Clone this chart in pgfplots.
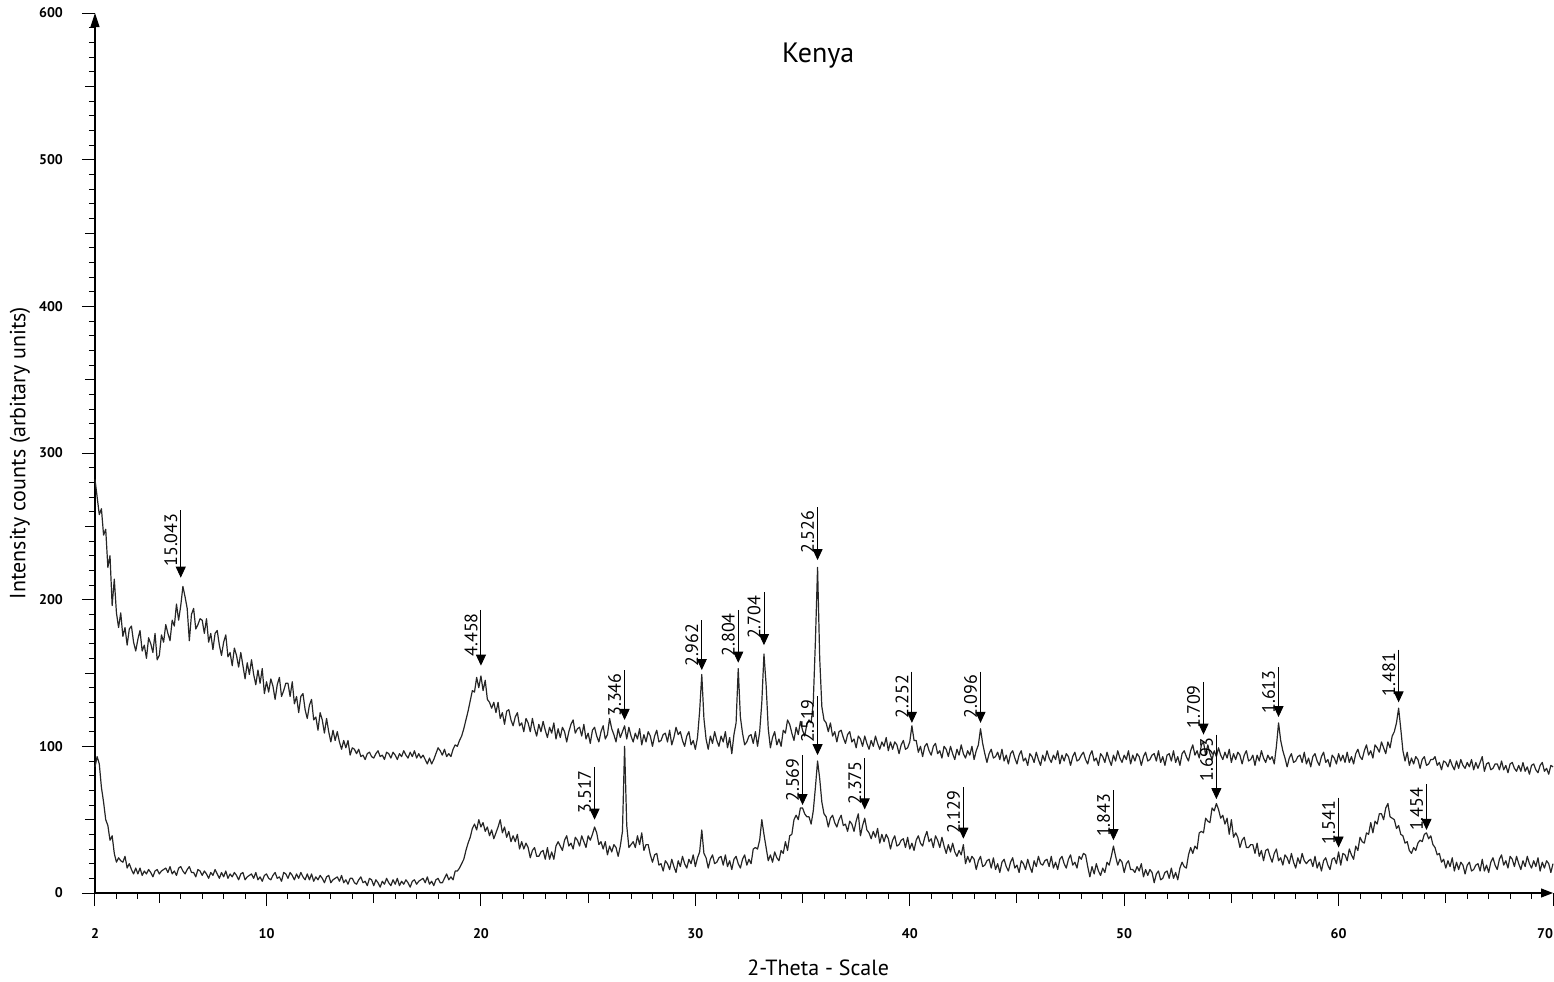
\documentclass[border=0pt]{standalone}
\usepackage{fontspec}
\setmainfont{PT Sans}
\usepackage{pgfplots}
\usepackage{pgfplotstable}
\pgfplotsset{compat=1.18}
\usetikzlibrary{arrows.meta}

% columns: 2-theta, upper pattern (a), lower pattern (b)
\pgfplotstableread[row sep=\\]{
x a b\\
2.0 282 86\\ 2.1 270 93\\ 2.2 258 88\\ 2.3 262 72\\ 2.4 244 62\\ 2.5 248 50\\ 2.6 222 46\\ 2.7 230 36\\ 2.8 196 39\\ 2.9 214 27\\
3.0 191 21\\ 3.1 181 24\\ 3.2 191 22\\ 3.3 175 21\\ 3.4 181 25\\ 3.5 169 17\\ 3.6 180 20\\ 3.7 182 16\\ 3.8 171 13\\ 3.9 165 17\\
4.0 173 13\\ 4.1 179 17\\ 4.2 165 12\\ 4.3 169 15\\ 4.4 160 13\\ 4.5 174 16\\ 4.6 170 14\\ 4.7 164 11\\ 4.8 177 15\\ 4.9 159 16\\
5.0 162 13\\ 5.1 176 15\\ 5.2 171 16\\ 5.3 183 17\\ 5.4 177 14\\ 5.5 172 18\\ 5.6 186 13\\ 5.7 182 15\\ 5.8 197 12\\ 5.9 186 17\\
6.0 196 18\\ 6.1 209 15\\ 6.2 202 13\\ 6.3 194 16\\ 6.4 172 18\\ 6.5 190 14\\ 6.6 194 14\\ 6.7 180 11\\ 6.8 183 16\\ 6.9 187 15\\
7.0 186 12\\ 7.1 177 15\\ 7.2 187 13\\ 7.3 171 10\\ 7.4 177 14\\ 7.5 166 12\\ 7.6 177 16\\ 7.7 179 13\\ 7.8 169 10\\ 7.9 162 14\\
8.0 171 11\\ 8.1 176 15\\ 8.2 161 10\\ 8.3 164 13\\ 8.4 155 11\\ 8.5 167 14\\ 8.6 162 12\\ 8.7 154 9\\ 8.8 164 13\\ 8.9 155 14\\
9.0 146 9\\ 9.1 157 11\\ 9.2 149 12\\ 9.3 159 13\\ 9.4 149 10\\ 9.5 142 14\\ 9.6 152 9\\ 9.7 143 11\\ 9.8 153 8\\ 9.9 136 12\\
10.0 144 13\\ 10.1 137 10\\ 10.2 146 9\\ 10.3 141 12\\ 10.4 132 14\\ 10.5 142 10\\ 10.6 147 11\\ 10.7 134 8\\ 10.8 138 14\\ 10.9 143 13\\
11.0 143 10\\ 11.1 134 14\\ 11.2 144 12\\ 11.3 129 9\\ 11.4 134 13\\ 11.5 123 10\\ 11.6 134 14\\ 11.7 136 11\\ 11.8 125 9\\ 11.9 119 13\\
12.0 128 9\\ 12.1 132 13\\ 12.2 118 8\\ 12.3 120 11\\ 12.4 111 9\\ 12.5 123 12\\ 12.6 118 10\\ 12.7 109 7\\ 12.8 119 11\\ 12.9 110 12\\
13.0 103 7\\ 13.1 111 9\\ 13.2 104 10\\ 13.3 110 11\\ 13.4 103 8\\ 13.5 98 12\\ 13.6 104 7\\ 13.7 99 9\\ 13.8 104 6\\ 13.9 94 10\\
14.0 99 10\\ 14.1 98 7\\ 14.2 95 6\\ 14.3 98 9\\ 14.4 93 11\\ 14.5 94 7\\ 14.6 91 8\\ 14.7 95 5\\ 14.8 96 10\\ 14.9 93 9\\
15.0 92 5\\ 15.1 95 9\\ 15.2 97 7\\ 15.3 93 4\\ 15.4 94 8\\ 15.5 91 6\\ 15.6 96 10\\ 15.7 95 7\\ 15.8 92 5\\ 15.9 96 9\\
16.0 94 6\\ 16.1 91 10\\ 16.2 95 5\\ 16.3 93 8\\ 16.4 97 6\\ 16.5 94 9\\ 16.6 92 7\\ 16.7 96 4\\ 16.8 93 8\\ 16.9 97 9\\
17.0 92 6\\ 17.1 95 8\\ 17.2 92 9\\ 17.3 94 10\\ 17.4 91 7\\ 17.5 88 11\\ 17.6 92 6\\ 17.7 88 8\\ 17.8 91 5\\ 17.9 95 9\\
18.0 99 10\\ 18.1 97 7\\ 18.2 94 7\\ 18.3 98 10\\ 18.4 93 13\\ 18.5 95 9\\ 18.6 93 11\\ 18.7 98 9\\ 18.8 101 15\\ 18.9 100 15\\
19.0 104 17\\ 19.1 107 20\\ 19.2 112 23\\ 19.3 118 29\\ 19.4 124 34\\ 19.5 131 38\\ 19.6 138 44\\ 19.7 137 47\\ 19.8 147 43\\ 19.9 140 50\\
20.0 148 45\\ 20.1 138 48\\ 20.2 145 42\\ 20.3 132 45\\ 20.4 130 39\\ 20.5 126 43\\ 20.6 130 37\\ 20.7 123 41\\ 20.8 130 45\\ 20.9 119 50\\
21.0 123 41\\ 21.1 115 45\\ 21.2 124 38\\ 21.3 125 42\\ 21.4 118 35\\ 21.5 114 39\\ 21.6 120 35\\ 21.7 123 40\\ 21.8 114 30\\ 21.9 116 35\\
22.0 110 30\\ 22.1 119 34\\ 22.2 116 31\\ 22.3 110 24\\ 22.4 119 29\\ 22.5 112 31\\ 22.6 107 25\\ 22.7 115 25\\ 22.8 110 28\\ 22.9 117 29\\
23.0 111 23\\ 23.1 106 31\\ 23.2 113 23\\ 23.3 109 28\\ 23.4 116 23\\ 23.5 105 32\\ 23.6 112 35\\ 23.7 106 32\\ 23.8 113 29\\ 23.9 110 36\\
24.0 103 39\\ 24.1 110 32\\ 24.2 115 34\\ 24.3 118 30\\ 24.4 109 38\\ 24.5 112 36\\ 24.6 113 32\\ 24.7 107 39\\ 24.8 115 35\\ 24.9 105 31\\
25.0 109 39\\ 25.1 102 36\\ 25.2 111 40\\ 25.3 113 45\\ 25.4 107 41\\ 25.5 103 33\\ 25.6 110 35\\ 25.7 114 30\\ 25.8 105 35\\ 25.9 108 26\\
26.0 119 32\\ 26.1 112 28\\ 26.2 108 33\\ 26.3 103 31\\ 26.4 112 25\\ 26.5 106 32\\ 26.6 110 42\\ 26.7 114 100\\ 26.8 105 46\\ 26.9 113 31\\
27.0 107 33\\ 27.1 103 35\\ 27.2 109 31\\ 27.3 105 39\\ 27.4 112 33\\ 27.5 101 41\\ 27.6 108 29\\ 27.7 103 33\\ 27.8 110 33\\ 27.9 107 26\\
28.0 100 21\\ 28.1 107 26\\ 28.2 111 27\\ 28.3 103 19\\ 28.4 104 20\\ 28.5 108 15\\ 28.6 109 22\\ 28.7 103 20\\ 28.8 111 16\\ 28.9 101 23\\
29.0 106 18\\ 29.1 113 14\\ 29.2 108 22\\ 29.3 110 18\\ 29.4 104 25\\ 29.5 100 20\\ 29.6 107 17\\ 29.7 110 23\\ 29.8 101 20\\ 29.9 104 26\\
30.0 98 18\\ 30.1 106 24\\ 30.2 124 28\\ 30.3 149 43\\ 30.4 119 27\\ 30.5 105 24\\ 30.6 98 17\\ 30.7 107 23\\ 30.8 102 26\\ 30.9 110 20\\
31.0 104 21\\ 31.1 100 24\\ 31.2 107 25\\ 31.3 103 19\\ 31.4 110 26\\ 31.5 99 18\\ 31.6 106 22\\ 31.7 95 16\\ 31.8 108 23\\ 31.9 116 25\\
32.0 153 20\\ 32.1 120 17\\ 32.2 109 23\\ 32.3 101 26\\ 32.4 103 19\\ 32.5 107 23\\ 32.6 108 20\\ 32.7 102 30\\ 32.8 110 31\\ 32.9 100 30\\
33.0 110 36\\ 33.1 130 50\\ 33.2 163 40\\ 33.3 142 31\\ 33.4 112 22\\ 33.5 99 26\\ 33.6 106 21\\ 33.7 110 28\\ 33.8 101 24\\ 33.9 105 22\\
34.0 100 29\\ 34.1 111 27\\ 34.2 109 35\\ 34.3 118 29\\ 34.4 115 39\\ 34.5 109 40\\ 34.6 104 50\\ 34.7 113 53\\ 34.8 108 50\\ 34.9 117 58\\
35.0 111 58\\ 35.1 107 54\\ 35.2 115 52\\ 35.3 118 52\\ 35.4 116 47\\ 35.5 130 56\\ 35.6 172 72\\ 35.7 222 90\\ 35.8 160 78\\ 35.9 127 62\\
36.0 118 54\\ 36.1 116 52\\ 36.2 110 45\\ 36.3 116 51\\ 36.4 107 53\\ 36.5 110 48\\ 36.6 103 45\\ 36.7 110 50\\ 36.8 111 53\\ 36.9 106 46\\
37.0 102 47\\ 37.1 108 42\\ 37.2 110 49\\ 37.3 103 47\\ 37.4 105 42\\ 37.5 99 49\\ 37.6 107 54\\ 37.7 105 39\\ 37.8 100 46\\ 37.9 107 51\\
38.0 102 43\\ 38.1 98 41\\ 38.2 104 37\\ 38.3 100 42\\ 38.4 107 38\\ 38.5 102 44\\ 38.6 98 34\\ 38.7 103 40\\ 38.8 100 35\\ 38.9 106 40\\
39.0 97 37\\ 39.1 103 30\\ 39.2 98 36\\ 39.3 103 39\\ 39.4 101 32\\ 39.5 95 33\\ 39.6 101 36\\ 39.7 104 37\\ 39.8 98 31\\ 39.9 99 38\\
40.0 103 30\\ 40.1 114 34\\ 40.2 104 29\\ 40.3 104 36\\ 40.4 96 39\\ 40.5 100 34\\ 40.6 93 32\\ 40.7 100 38\\ 40.8 102 42\\ 40.9 97 35\\
41.0 94 37\\ 41.1 100 31\\ 41.2 102 39\\ 41.3 95 36\\ 41.4 97 31\\ 41.5 92 38\\ 41.6 100 32\\ 41.7 98 27\\ 41.8 93 33\\ 41.9 100 28\\
42.0 95 34\\ 42.1 91 28\\ 42.2 98 25\\ 42.3 94 29\\ 42.4 101 26\\ 42.5 95 33\\ 42.6 92 20\\ 42.7 97 25\\ 42.8 94 21\\ 42.9 100 25\\
43.0 91 23\\ 43.1 97 16\\ 43.2 101 22\\ 43.3 112 25\\ 43.4 102 18\\ 43.5 95 19\\ 43.6 89 22\\ 43.7 95 23\\ 43.8 98 17\\ 43.9 92 24\\
44.0 93 16\\ 44.1 96 20\\ 44.2 91 14\\ 44.3 98 21\\ 44.4 90 23\\ 44.5 94 18\\ 44.6 88 15\\ 44.7 95 21\\ 44.8 97 24\\ 44.9 92 17\\
45.0 88 19\\ 45.1 94 14\\ 45.2 97 22\\ 45.3 90 20\\ 45.4 92 16\\ 45.5 87 23\\ 45.6 95 18\\ 45.7 93 14\\ 45.8 89 22\\ 45.9 96 18\\
46.0 91 25\\ 46.1 87 20\\ 46.2 94 19\\ 46.3 90 22\\ 46.4 97 23\\ 46.5 92 18\\ 46.6 89 25\\ 46.7 94 17\\ 46.8 91 21\\ 46.9 97 16\\
47.0 88 23\\ 47.1 94 25\\ 47.2 90 20\\ 47.3 95 17\\ 47.4 93 23\\ 47.5 87 26\\ 47.6 93 19\\ 47.7 96 21\\ 47.8 90 17\\ 47.9 91 25\\
48.0 94 23\\ 48.1 96 27\\ 48.2 91 26\\ 48.3 88 18\\ 48.4 94 11\\ 48.5 97 18\\ 48.6 90 13\\ 48.7 92 20\\ 48.8 87 15\\ 48.9 95 12\\
49.0 93 17\\ 49.1 89 14\\ 49.2 96 21\\ 49.3 91 19\\ 49.4 87 25\\ 49.5 94 32\\ 49.6 90 25\\ 49.7 97 19\\ 49.8 92 23\\ 49.9 89 21\\
50.0 94 14\\ 50.1 91 20\\ 50.2 97 22\\ 50.3 88 16\\ 50.4 94 16\\ 50.5 90 14\\ 50.6 95 18\\ 50.7 93 15\\ 50.8 87 20\\ 50.9 93 11\\
51.0 96 16\\ 51.1 90 12\\ 51.2 91 16\\ 51.3 94 14\\ 51.4 95 7\\ 51.5 90 13\\ 51.6 97 15\\ 51.7 89 9\\ 51.8 93 10\\ 51.9 87 14\\
52.0 94 15\\ 52.1 95 10\\ 52.2 90 17\\ 52.3 97 10\\ 52.4 89 14\\ 52.5 93 9\\ 52.6 87 17\\ 52.7 95 21\\ 52.8 97 18\\ 52.9 93 17\\
53.0 90 26\\ 53.1 97 31\\ 53.2 101 27\\ 53.3 94 32\\ 53.4 97 30\\ 53.5 92 41\\ 53.6 101 42\\ 53.7 103 41\\ 53.8 94 51\\ 53.9 101 49\\
54.0 95 48\\ 54.1 91 58\\ 54.2 97 56\\ 54.3 93 61\\ 54.4 99 57\\ 54.5 94 51\\ 54.6 91 53\\ 54.7 96 47\\ 54.8 92 51\\ 54.9 98 40\\
55.0 89 50\\ 55.1 95 38\\ 55.2 91 41\\ 55.3 96 38\\ 55.4 94 31\\ 55.5 88 36\\ 55.6 94 38\\ 55.7 97 31\\ 55.8 90 31\\ 55.9 91 33\\
56.0 94 33\\ 56.1 87 27\\ 56.2 94 34\\ 56.3 90 25\\ 56.4 97 29\\ 56.5 92 22\\ 56.6 89 29\\ 56.7 94 30\\ 56.8 91 25\\ 56.9 93 21\\
57.0 88 27\\ 57.1 100 30\\ 57.2 116 22\\ 57.3 104 24\\ 57.4 97 19\\ 57.5 92 26\\ 57.6 86 24\\ 57.7 92 20\\ 57.8 95 27\\ 57.9 89 21\\
58.0 90 17\\ 58.1 93 24\\ 58.2 94 20\\ 58.3 89 27\\ 58.4 96 22\\ 58.5 88 20\\ 58.6 92 22\\ 58.7 86 23\\ 58.8 93 18\\ 58.9 95 25\\
59.0 90 17\\ 59.1 87 21\\ 59.2 93 15\\ 59.3 96 22\\ 59.4 89 24\\ 59.5 91 19\\ 59.6 86 16\\ 59.7 94 23\\ 59.8 92 24\\ 59.9 88 20\\
60.0 95 28\\ 60.1 90 19\\ 60.2 94 27\\ 60.3 89 26\\ 60.4 96 22\\ 60.5 89 30\\ 60.6 93 26\\ 60.7 88 23\\ 60.8 95 32\\ 60.9 98 29\\
61.0 93 38\\ 61.1 91 35\\ 61.2 97 34\\ 61.3 101 41\\ 61.4 94 40\\ 61.5 97 48\\ 61.6 92 41\\ 61.7 101 49\\ 61.8 99 47\\ 61.9 96 54\\
62.0 103 54\\ 62.1 99 50\\ 62.2 95 58\\ 62.3 103 61\\ 62.4 99 52\\ 62.5 107 51\\ 62.6 110 50\\ 62.7 116 44\\ 62.8 126 46\\ 62.9 112 40\\
63.0 97 39\\ 63.1 90 34\\ 63.2 96 35\\ 63.3 87 29\\ 63.4 92 27\\ 63.5 88 31\\ 63.6 93 29\\ 63.7 91 34\\ 63.8 85 36\\ 63.9 91 35\\
64.0 93 40\\ 64.1 87 41\\ 64.2 88 37\\ 64.3 91 39\\ 64.4 91 33\\ 64.5 93 31\\ 64.6 87 26\\ 64.7 89 27\\ 64.8 84 21\\ 64.9 90 23\\
65.0 89 17\\ 65.1 86 22\\ 65.2 91 18\\ 65.3 87 24\\ 65.4 84 15\\ 65.5 90 21\\ 65.6 85 16\\ 65.7 91 21\\ 65.8 87 19\\ 65.9 85 13\\
66.0 89 19\\ 66.1 86 21\\ 66.2 91 15\\ 66.3 84 16\\ 66.4 89 19\\ 66.5 85 20\\ 66.6 89 15\\ 66.7 93 23\\ 66.8 83 15\\ 66.9 88 19\\
67.0 89 14\\ 67.1 84 21\\ 67.2 85 24\\ 67.3 88 19\\ 67.4 88 16\\ 67.5 84 23\\ 67.6 90 26\\ 67.7 84 19\\ 67.8 87 22\\ 67.9 82 17\\
68.0 88 25\\ 68.1 89 23\\ 68.2 85 18\\ 68.3 83 25\\ 68.4 87 20\\ 68.5 83 16\\ 68.6 89 22\\ 68.7 83 18\\ 68.8 86 25\\ 68.9 81 20\\
69.0 87 17\\ 69.1 88 22\\ 69.2 84 18\\ 69.3 82 24\\ 69.4 87 15\\ 69.5 89 21\\ 69.6 83 17\\ 69.7 85 22\\ 69.8 81 20\\ 69.9 87 14\\
70.0 86 20\\
}\xrd

% peak markers: position, top of the marker line, arrow tip, d-spacing
\pgfplotstableread[row sep=\\]{
x top tip lab\\
6.0 261 215 15.043\\
20.0 193 155 4.458\\
26.7 152 118 3.346\\
30.3 186 152 2.962\\
32.0 193 157 2.804\\
33.2 205 169 2.704\\
35.7 263 227 2.526\\
40.1 151 116 2.252\\
43.3 151 116 2.096\\
53.7 144 108 1.709\\
57.2 154 120 1.613\\
62.8 166 130 1.481\\
25.3 86 50 3.517\\
35.0 94 60 2.569\\
35.7 134 94 2.519\\
37.9 92 57 2.375\\
42.5 72 37 2.129\\
49.5 70 36 1.843\\
54.3 108 64 1.693\\
60.0 65 31 1.541\\
64.1 74 43 1.454\\
}\peaks

\begin{document}
\begin{tikzpicture}
\begin{axis}[
  scale only axis,
  width=729pt, height=440pt,
  xmin=2, xmax=70, ymin=0, ymax=600,
  axis lines=left,
  axis line style={line width=0.6pt, black},
  x axis line style={-{Triangle[length=6pt,width=4.5pt]}},
  y axis line style={-{Triangle[length=7pt,width=4.5pt]}},
  tick align=outside,
  tick style={black, line width=0.5pt},
  major tick length=6.5pt,
  minor tick length=3pt,
  xtick={2,10,20,30,40,50,60,70},
  xticklabels={2,10,20,30,40,50,60,\llap{70}},
  minor xtick={3,4,...,69},
  ytick={0,100,...,600},
  minor ytick={0,10,...,600},
  extra x ticks={5,15,25,35,45,55,65},
  extra y ticks={50,150,250,350,450,550},
  extra x tick labels={}, extra y tick labels={},
  extra tick style={major tick length=5pt},
  /pgf/number format/assume math mode=true,
  tick label style={font=\fontsize{7}{8}\selectfont\bfseries},
  xticklabel style={yshift=-7.5pt},
  yticklabel style={xshift=-6pt},
  title={Kenya},
  title style={at={(0.496,0.9375)}, anchor=center, font=\fontsize{14}{16}\selectfont},
  xlabel={2-Theta - Scale},
  ylabel={Intensity counts (arbitary units)},
  xlabel style={at={(axis description cs:0.496,0)}, anchor=center, yshift=-37.5pt, font=\fontsize{11}{13}\selectfont},
  ylabel style={at={(axis description cs:-0.0514,0.5)}, anchor=center, font=\fontsize{11}{13}\selectfont},
  clip=false,
]
\coordinate (o) at (rel axis cs:0,0);
\addplot[black!85, line width=0.6pt, line join=round] table[x=x, y=a] {\xrd};
\addplot[black!85, line width=0.6pt, line join=round] table[x=x, y=b] {\xrd};
% marker arrows
\addplot[black, line width=0.45pt,
  quiver={u=0, v=\thisrow{tip}-\thisrow{top}},
  quiver/every arrow/.append style={-{Triangle[length=5.5pt,width=5pt]}}]
  table[x=x, y=top] {\peaks};
% d-spacing labels
\addplot[draw=none, mark=none,
  nodes near coords, point meta=explicit symbolic,
  nodes near coords style={rotate=90, anchor=south east, inner sep=1.5pt,
    font=\fontsize{9}{10}\selectfont, black}]
  table[x=x, y=top, meta=lab] {\peaks};
\end{axis}
\pgfresetboundingbox
\path (o) ++(-47.5pt,-44pt) rectangle ++(777pt,490.5pt);
\end{tikzpicture}
\end{document}
